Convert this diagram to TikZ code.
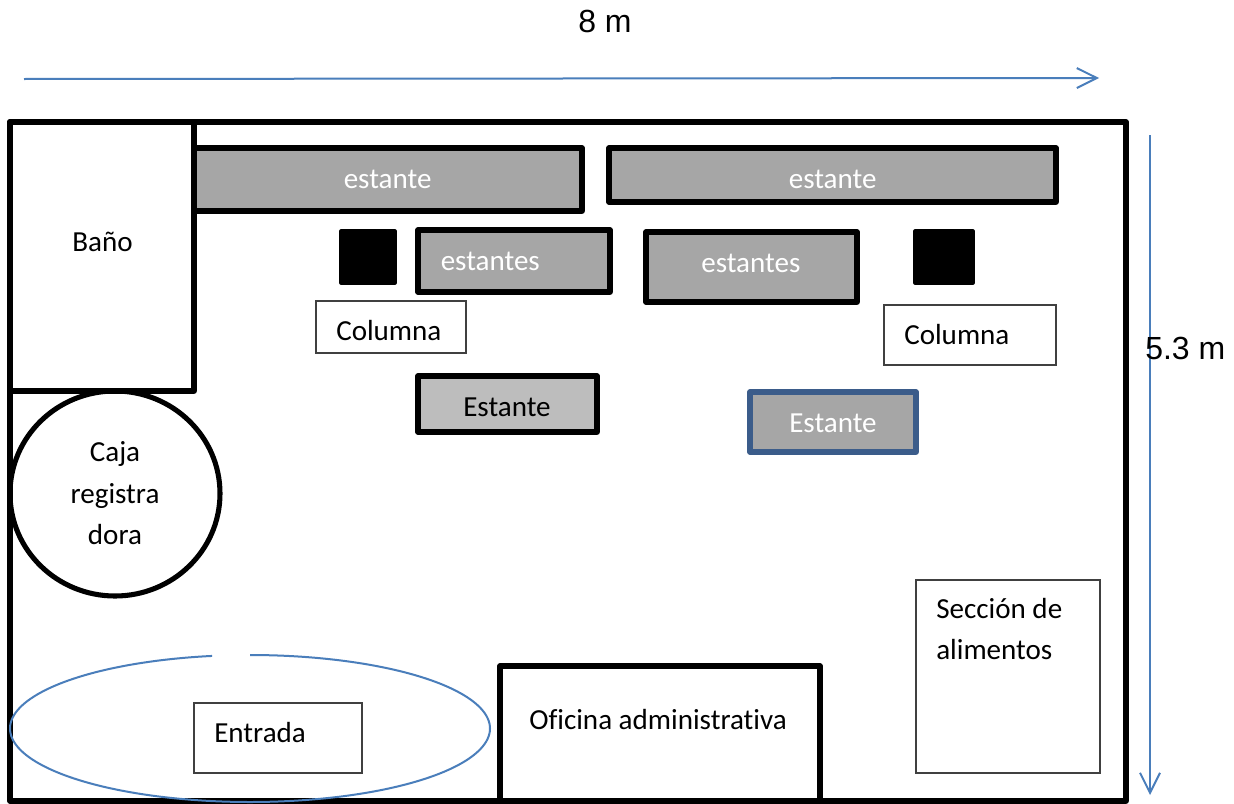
\documentclass[tikz,border=0pt]{standalone}
\usepackage{fontspec}
\setmainfont{Carlito}[Ligatures=NoCommon]
\newfontfamily\arialf{Liberation Sans}
\usetikzlibrary{arrows.meta}
\definecolor{wordblue}{HTML}{4A7EBB}
\definecolor{darkblue}{HTML}{3B5C8A}
\definecolor{shelfgrey}{HTML}{A6A6A6}
\definecolor{lightshelf}{HTML}{BDBDBD}
\definecolor{thinline}{HTML}{404040}
\tikzset{
  x=0.75pt,y=-0.75pt,
  wall/.style={draw=black,line width=3.8pt,line join=round},
  shelfbox/.style={wall,fill=shelfgrey},
  lightbox/.style={wall,fill=lightshelf},
  bluebox/.style={draw=darkblue,line width=3.8pt,line join=round,fill=shelfgrey},
  pillar/.style={draw=black,fill=black,line width=2.4pt,line join=round},
  labelbox/.style={draw=thinline,line width=0.9pt,fill=white},
  blueline/.style={draw=wordblue,line width=1.5pt},
  measure/.style={blueline,-{Straight Barb[length=15pt,width=15pt,line width=1.5pt]}},
  txt/.style={anchor=base west,inner sep=0pt,font=\fontsize{21.8}{26}\selectfont,text=black},
  whitetxt/.style={txt,text=white},
  midtxt/.style={txt,anchor=base},
  dimtxt/.style={anchor=base west,inner sep=0pt,font=\arialf\fontsize{24}{28}\selectfont,text=black}
}
\begin{document}
\begin{tikzpicture}
\useasboundingbox[fill=white] (0,0) rectangle (1234,803);
% outer walls
\draw[wall] (10,122) rectangle (1126,801);
\draw[wall] (10,122) rectangle (194,391);
% shelves
\draw[shelfbox] (194,148) rectangle (582,211);
\draw[shelfbox] (609,148) rectangle (1056,202);
\draw[shelfbox] (418,230) rectangle (610,292);
\draw[shelfbox] (646,232) rectangle (857,302);
\draw[lightbox] (418,376) rectangle (597,432);
\draw[bluebox] (750,392) rectangle (916,452);
% columns
\draw[pillar] (341,231) rectangle (395,283);
\draw[pillar] (915,231) rectangle (973,283);
\draw[labelbox] (316,301) rectangle (466,353);
\draw[labelbox] (884,305) rectangle (1056,365);
% till
\draw[wall] (115,493.5) ellipse [x radius=105,y radius=102.5];
% entrance
\draw[blueline] plot[domain=90:-260.9,samples=180,smooth] ({250+240*cos(\x)},{728.5-73.5*sin(\x)});
\draw[labelbox] (194,703) rectangle (362,773);
% office and food section
\draw[wall] (500,666) -- (820,666) -- (820,801) -- (500,801) -- cycle;
\draw[labelbox] (916,580) rectangle (1100,773);
% measures
\coordinate (hstart) at (24,79);
\coordinate (hend) at (1099,78);
\coordinate (vstart) at (1150,135);
\coordinate (vend) at (1150,795);
\draw[measure] (hstart) -- (hend);
\draw[measure] (vstart) -- (vend);
% labels
\node[dimtxt] (ocho) at (578,32) {8 m};
\node[dimtxt] (alto) at (1145,359) {5.3 m};
\node[txt] (bano) at (72,251) {Baño};
\node[whitetxt] (e1) at (343.5,188) {estante};
\node[whitetxt] (e2) at (788.5,188) {estante};
\node[whitetxt] (e3) at (440.5,270) {estantes};
\node[whitetxt] (e4) at (701,272) {estantes};
\node[txt] (c1) at (336,340) {Columna};
\node[txt] (c2) at (904,344) {Columna};
\node[txt] (e5) at (463,416) {Estante};
\node[whitetxt] (e6) at (789,432) {Estante};
\node[midtxt] (caja1) at (115,461.5) {Caja};
\node[midtxt] (caja2) at (115,503.5) {registra};
\node[midtxt] (caja3) at (115,544) {dora};
\node[txt] (entrada) at (214,742) {Entrada};
\node[txt] (oficina) at (529,729) {Oficina administrativa};
\node[txt] (sec1) at (936,618) {Sección de};
\node[txt] (sec2) at (936,659) {alimentos};
\end{tikzpicture}
\end{document}
